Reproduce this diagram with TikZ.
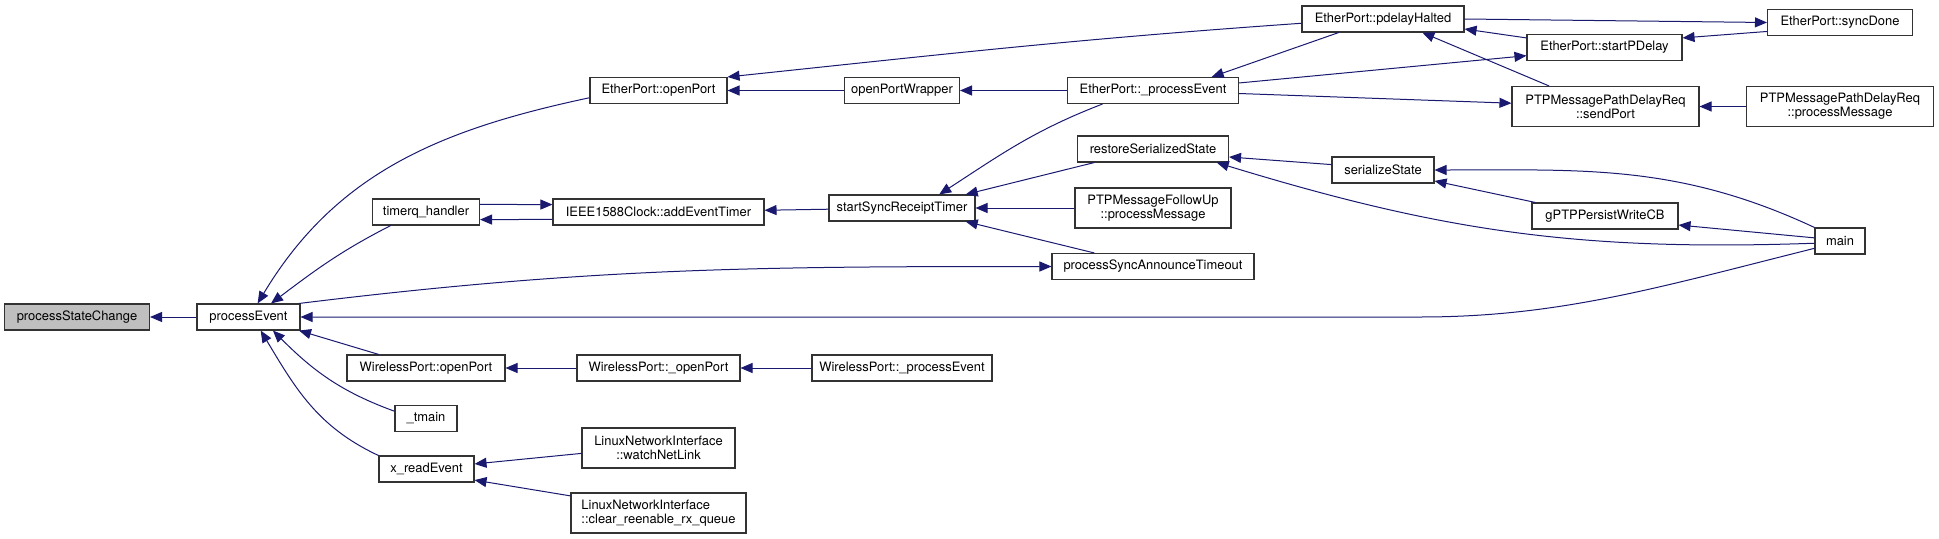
\documentclass[tikz,border=0pt]{standalone}
\usepackage{fontspec}
\setmainfont{TeX Gyre Heros}
\usetikzlibrary{arrows.meta}
\definecolor{edgeblue}{HTML}{191970}
\definecolor{curgray}{HTML}{BFBFBF}

\begin{document}
\begin{tikzpicture}[
	x=0.75pt, y=0.75pt,
	font=\fontsize{9.7}{10.5}\selectfont,
	fn/.style={ draw=black!80, line width=0.8pt, fill=white, inner sep=0pt, align=center, minimum height=19.5pt, minimum width=#1*0.75pt },
	fncur/.style={ fn=#1, fill=curgray },
	tall/.style={ minimum height=30pt },
	call/.style={ draw=edgeblue, line width=0.75pt, -{Triangle[length=9pt,width=7.5pt]} }
]

\useasboundingbox (0,0) rectangle (1939,-539);

\node at (77,-317) (psc) [fncur=145] {processStateChange};
\node at (248.5,-317) (pe) [fn=103] {processEvent};
\draw[call] (pe) -- (psc);
\node at (426,-212) (tqh) [fn=107] {timerq\_handler};
\node at (426,-368) (wop) [fn=158] {WirelessPort::openPort};
\node at (426,-418.5) (tm) [fn=62] {\_tmain};
\node at (426.5,-469) (xre) [fn=95] {x\_readEvent};
\node at (658.5,-90.5) (eop) [fn=137] {EtherPort::openPort};
\node at (658.5,-212) (aet) [fn=211] {IEEE1588Clock::addEventTimer};
\node at (658.5,-368) (wiop) [fn=163] {WirelessPort::\_openPort};
\node at (658.5,-448) (wnl) [fn=153,tall] {LinuxNetworkInterface\\::watchNetLink};
\node at (658.5,-513) (crq) [fn=175,tall,align=left] {LinuxNetworkInterface\\::clear\_reenable\_rx\_queue};
\node at (902,-90.5) (opw) [fn=115] {openPortWrapper};
\node at (902,-208) (ssrt) [fn=146] {startSyncReceiptTimer};
\node at (902,-368) (wipe) [fn=180] {WirelessPort::\_processEvent};
\node at (1153,-90.5) (epe) [fn=171] {EtherPort::\_processEvent};
\node at (1153,-149) (rss) [fn=151] {restoreSerializedState};
\node at (1153,-208) (fup) [fn=156,tall] {PTPMessageFollowUp\\::processMessage};
\node at (1153,-266.5) (psat) [fn=202] {processSyncAnnounceTimeout};
\node at (1383,-19) (pdh) [fn=162] {EtherPort::pdelayHalted};
\node at (1383,-170) (ser) [fn=102] {serializeState};
\node at (1604.5,-47.5) (spd) [fn=155] {EtherPort::startPDelay};
\node at (1605.5,-106.5) (snd) [fn=187,tall] {PTPMessagePathDelayReq\\::sendPort};
\node at (1605,-216) (gpw) [fn=146] {gPTPPersistWriteCB};
\node at (1840,-22.5) (sdn) [fn=145] {EtherPort::syncDone};
\node at (1840,-106.5) (ppm) [fn=187,tall] {PTPMessagePathDelayReq\\::processMessage};
\node at (1840,-241) (mn) [fn=50] {main};

\draw[call] (eop.186) to[out=192, in=59] (pe.56);
\draw[call] (tqh.201) to[out=207, in=37] (pe.31);
\draw[call] (pe.15) to[out=7, in=180] (psat);
\draw[call] (mn.196) .. controls (1660,-287) and (1560,-317) .. (1420,-317) -- (pe.east);
\draw[call] (wop.164) -- (pe.-15);
\draw[call] (tm.167) to[out=160, in=-45] (pe.-29);
\draw[call] (xre.north west) to[out=155, in=-59] (pe.-48);
\draw[call] (pdh.183) to[out=184, in=6] (eop.north east);
\draw[call] (opw) -- (eop);
\draw[call] (aet.184) -- (tqh.-8.5);
\draw[call] (tqh.8.5) -- (aet.176);
\draw[call] (ssrt) -- (aet);
\draw[call] (epe) -- (opw);
\draw[call] (epe.195) to[out=201, in=33] (ssrt.20);
\draw[call] (rss.193) -- (ssrt.12);
\draw[call] (fup) -- (ssrt);
\draw[call] (psat.167) -- (ssrt.-12);
\draw[call] (pdh.197) -- (epe.13.5);
\draw[call] (epe.5.6) -- (spd.186);
\draw[call] (epe.-2.3) -- (snd.178);
\draw[call] (spd.173) -- (pdh.-7);
\draw[call] (pdh.east) -- (sdn.west);
\draw[call] (sdn.187) -- (spd.7);
\draw[call] (snd.160) -- (pdh.-19);
\draw[call] (ppm) -- (snd);
\draw[call] (ser.174) -- (rss.-6);
\draw[call] (mn.185) to[out=182, in=-17] (rss.-12);
\draw[call] (mn.north west) to[out=155, in=0] (ser.east);
\draw[call] (gpw.169) -- (ser.-12);
\draw[call] (mn.173) -- (gpw.-7);
\draw[call] (wiop) -- (wop);
\draw[call] (wipe) -- (wiop);
\draw[call] (wnl.184.5) -- (xre.6);
\draw[call] (crq.169) -- (xre.-13);

\end{tikzpicture}
\end{document}
